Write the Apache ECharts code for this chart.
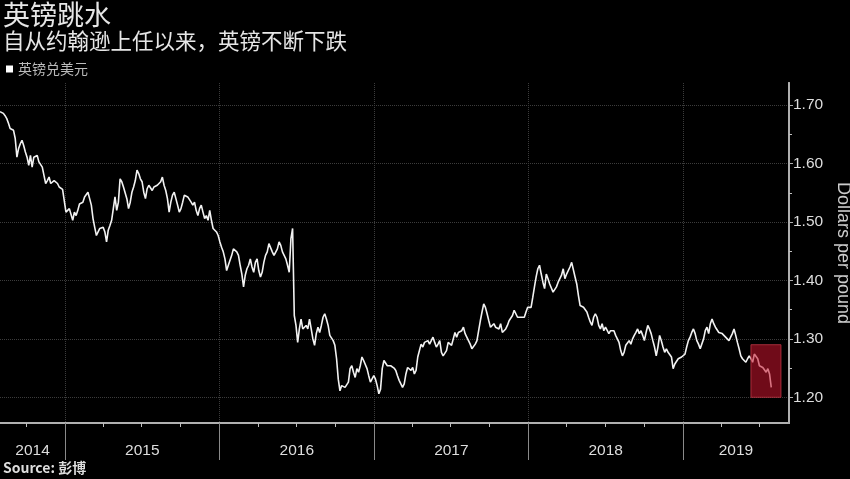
<!DOCTYPE html>
<html><head><meta charset="utf-8">
<script src="https://cdn.jsdelivr.net/npm/echarts@6/dist/echarts.min.js"></script>
<style>html,body{margin:0;padding:0;background:#000;}#c{width:850px;height:479px;}</style>
</head><body><div id="c"></div>
<script>
// ---- text ----
const titleText = '英镑跳水';
const subtitleText = '自从约翰逊上任以来，英镑不断下跌';
const seriesName = '英镑兑美元';
const yAxisName = 'Dollars per pound';
const sourceText = 'Source: 彭博';

// ---- axis range & ticks ----
const axisStart = '2014-07-31';
const axisEnd = '2019-09-09';
const yearStarts = ['2015-01-01','2016-01-01','2017-01-01','2018-01-01','2019-01-01'];
const yearLabels = ['2014','2015','2016','2017','2018','2019'];
const quarterTicks = ['2014-10-01',
  '2015-04-01','2015-07-01','2015-10-01',
  '2016-04-01','2016-07-01','2016-10-01',
  '2017-04-01','2017-07-01','2017-10-01',
  '2018-04-01','2018-07-01','2018-10-01',
  '2019-04-01','2019-07-01'];
const yMin = 1.156, yMax = 1.738;
const yTicks = [1.20, 1.30, 1.40, 1.50, 1.60, 1.70];
const yMinorTicks = [1.25, 1.35, 1.45, 1.55, 1.65];

// ---- highlighted box ----
const highlightFrom = '2019-06-11', highlightTo = '2019-08-21';
const highlightLow = 1.20, highlightHigh = 1.29;

// ---- GBP/USD, sampled every 4 days from sampleStart ----
const sampleStart = '2014-07-31';
const sampleStepDays = 4;
const gbp2014 = [1.689,1.687,1.686,1.682,1.677,1.669,1.660,1.658,1.657,1.643,
  1.611,1.626,1.634,1.640,1.631,1.620,1.611,1.597,1.614,1.594,
  1.611,1.609,1.614,1.603,1.600,1.594,1.580,1.566,1.571,1.577,
  1.566,1.563,1.571,1.574,1.566,1.560,1.557,1.556,1.554];
const gbp2015 = [1.517,1.514,1.523,1.520,1.503,1.517,1.511,1.520,1.531,1.529,
  1.534,1.543,1.546,1.551,1.540,1.529,1.506,1.491,1.477,1.483,
  1.489,1.486,1.491,1.483,1.466,1.486,1.494,1.503,1.523,1.543,
  1.520,1.534,1.574,1.569,1.560,1.560,1.540,1.523,1.534,1.551,
  1.560,1.571,1.589,1.583,1.574,1.569,1.551,1.540,1.557,1.563,
  1.560,1.554,1.560,1.557,1.563,1.563,1.569,1.577,1.563,1.554,
  1.540,1.517,1.534,1.546,1.551,1.540,1.529,1.517,1.523,1.534,
  1.546,1.549,1.543,1.546,1.534,1.529,1.534,1.520,1.511,1.523,
  1.529,1.517,1.506,1.511,1.503,1.520,1.503,1.489,1.491,1.483,1.477];
const gbp2016 = [1.466,1.457,1.449,1.437,1.417,1.426,1.429,1.443,1.454,1.451,
  1.449,1.443,1.426,1.411,1.389,1.409,1.420,1.426,1.437,1.423,
  1.414,1.431,1.437,1.417,1.406,1.414,1.431,1.443,1.449,1.463,
  1.466,1.449,1.443,1.446,1.454,1.466,1.460,1.449,1.451,1.437,
  1.426,1.414,1.471,1.489,1.340,1.323,1.294,1.317,1.334,1.317,
  1.314,1.323,1.317,1.334,1.317,1.300,1.289,1.309,1.320,1.311,
  1.323,1.337,1.343,1.334,1.323,1.306,1.303,1.297,1.289,1.266,
  1.231,1.211,1.220,1.220,1.217,1.214,1.226,1.249,1.254,1.243,
  1.234,1.249,1.243,1.254,1.269,1.263,1.260,1.249,1.237,1.226,1.223,1.237];
const gbp2017 = [1.231,1.220,1.206,1.214,1.249,1.263,1.260,1.254,1.257,1.254,
  1.251,1.250,1.246,1.237,1.229,1.223,1.217,1.223,1.240,1.251,
  1.254,1.246,1.251,1.240,1.246,1.269,1.280,1.291,1.286,1.294,
  1.291,1.297,1.291,1.297,1.303,1.294,1.286,1.291,1.297,1.277,
  1.271,1.269,1.280,1.294,1.297,1.289,1.300,1.311,1.303,1.311,
  1.309,1.314,1.320,1.309,1.303,1.297,1.291,1.283,1.286,1.291,
  1.297,1.314,1.331,1.346,1.360,1.354,1.343,1.331,1.320,1.317,
  1.326,1.320,1.323,1.317,1.326,1.311,1.314,1.317,1.323,1.331,
  1.334,1.340,1.349,1.346,1.337,1.334,1.337,1.340,1.337,1.346,1.354];
const gbp2018 = [1.357,1.354,1.371,1.389,1.406,1.420,1.426,1.411,1.397,1.386,
  1.411,1.403,1.394,1.394,1.380,1.383,1.389,1.397,1.403,1.409,
  1.420,1.403,1.411,1.414,1.423,1.431,1.433,1.406,1.394,1.374,
  1.357,1.354,1.354,1.351,1.346,1.337,1.329,1.323,1.337,1.343,
  1.337,1.323,1.317,1.326,1.314,1.320,1.317,1.309,1.314,1.311,
  1.314,1.306,1.300,1.294,1.280,1.271,1.277,1.289,1.286,1.297,
  1.291,1.300,1.306,1.311,1.317,1.309,1.314,1.306,1.297,1.311,
  1.323,1.317,1.309,1.297,1.286,1.271,1.286,1.306,1.297,1.286,
  1.277,1.283,1.277,1.274,1.269,1.249,1.257,1.260,1.266,1.263,1.269];
const gbp2019 = [1.271,1.274,1.286,1.297,1.303,1.311,1.317,1.309,1.297,1.291,
  1.283,1.280,1.300,1.314,1.320,1.309,1.326,1.334,1.326,1.320,
  1.317,1.311,1.314,1.309,1.306,1.303,1.300,1.297,1.303,1.309,
  1.317,1.306,1.294,1.283,1.271,1.266,1.263,1.260,1.266,1.271,
  1.266,1.260,1.274,1.271,1.266,1.254,1.257,1.251,1.249,1.243,1.249,1.240,1.217];

// ---- build ----
const DAY = 86400000;
function ms(s){ const p = s.split('-').map(Number); return Date.UTC(p[0], p[1]-1, p[2]); }
const gbpValues = [].concat(gbp2014, gbp2015, gbp2016, gbp2017, gbp2018, gbp2019);
const t0 = ms(sampleStart);
const seriesData = gbpValues.map((v, i) => [t0 + i * sampleStepDays * DAY, v]);

const xMin = ms(axisStart), xMax = ms(axisEnd);
const bounds = [xMin].concat(yearStarts.map(ms), [xMax]);
const labelPos = [];
for (let i = 0; i < bounds.length - 1; i++) labelPos.push((bounds[i] + bounds[i+1]) / 2);

const fontLat = 'Liberation Sans, Arial, sans-serif';
const fontCJK = 'Noto Sans CJK SC, sans-serif';
const gridBox = {left: 0, right: 61, top: 83, bottom: 56, containLabel: false, outerBoundsMode: 'none'};
const quarterMs = quarterTicks.map(ms);

const chart = echarts.init(document.getElementById('c'), null, {renderer: 'canvas'});
chart.setOption({
  backgroundColor: '#000',
  animation: false,
  title: [
    {text: titleText, left: 3, top: 1, padding: 0,
     textStyle: {color: '#e6e6e6', fontSize: 27, fontWeight: 'normal', fontFamily: fontCJK}},
    {text: subtitleText, left: 3, top: 30, padding: 0,
     textStyle: {color: '#e6e6e6', fontSize: 21.5, fontWeight: 'normal', fontFamily: fontCJK}},
    {text: sourceText, left: 3, top: 461, padding: 0,
     textStyle: {color: '#dddddd', fontSize: 14, fontWeight: 'bold', fontFamily: fontCJK}}
  ],
  legend: {
    data: [seriesName], left: 6, top: 62, padding: 0,
    icon: 'rect', itemWidth: 7, itemHeight: 7, itemGap: 10,
    textStyle: {color: '#bbbbbb', fontSize: 14, fontFamily: fontCJK}
  },
  grid: [Object.assign({}, gridBox), Object.assign({}, gridBox)],
  xAxis: [
    {type: 'value', gridIndex: 0, min: xMin, max: xMax, position: 'bottom', scale: true,
     axisLine: {show: true, onZero: false, lineStyle: {color: '#b0b0b0', width: 2}},
     axisTick: {show: true, customValues: yearStarts.map(ms), length: 37, inside: false,
                lineStyle: {color: '#8a8a8a', width: 1}},
     axisLabel: {show: true, customValues: labelPos, margin: 20, color: '#dddddd', fontSize: 15.5,
                 fontFamily: fontLat,
                 formatter: function (v) { const k = labelPos.indexOf(v); return k >= 0 ? yearLabels[k] : ''; }},
     splitLine: {show: true, lineStyle: {color: '#3c3c3c', width: 1, type: 'dotted'}}},
    {type: 'value', gridIndex: 1, min: xMin, max: xMax, position: 'bottom', scale: true,
     axisLine: {show: true, onZero: false, lineStyle: {color: '#b0b0b0', width: 2}},
     axisTick: {show: true, customValues: quarterMs, length: 4, inside: false,
                lineStyle: {color: '#c0c0c0', width: 1}},
     axisLabel: {show: true, customValues: quarterMs, color: 'rgba(0,0,0,0)', fontSize: 1,
                 formatter: function () { return ' '; }},
     splitLine: {show: false}}
  ],
  yAxis: [
    {type: 'value', gridIndex: 0, min: yMin, max: yMax, position: 'right', scale: true,
     name: yAxisName, nameLocation: 'middle', nameRotate: -90, nameGap: 40,
     nameTextStyle: {color: '#cccccc', fontSize: 18, fontFamily: fontLat},
     axisLine: {show: true, onZero: false, lineStyle: {color: '#b0b0b0', width: 2}},
     axisTick: {show: true, customValues: yTicks, length: 4, lineStyle: {color: '#b0b0b0'}},
     axisLabel: {show: true, customValues: yTicks, margin: 4, color: '#dddddd', fontSize: 15.5,
                 fontFamily: fontLat, formatter: function (v) { return Number(v).toFixed(2); }},
     splitLine: {show: true, lineStyle: {color: '#3c3c3c', width: 1, type: 'dotted'}}},
    {type: 'value', gridIndex: 1, min: yMin, max: yMax, position: 'right', scale: true,
     axisLine: {show: true, onZero: false, lineStyle: {color: '#b0b0b0', width: 2}},
     axisTick: {show: true, customValues: yMinorTicks, length: 3, lineStyle: {color: '#c0c0c0'}},
     axisLabel: {show: true, customValues: yMinorTicks, color: 'rgba(0,0,0,0)', fontSize: 1,
                 formatter: function () { return ' '; }},
     splitLine: {show: false}}
  ],
  series: [
    {name: seriesName, type: 'line', xAxisIndex: 0, yAxisIndex: 0, data: seriesData,
     showSymbol: false, symbol: 'none', z: 3,
     lineStyle: {color: '#f2f2f2', width: 1.6}, itemStyle: {color: '#ffffff'}},
    {name: 'minorTicksHost', type: 'line', xAxisIndex: 1, yAxisIndex: 1, silent: true,
     data: [[xMin, yMin]], showSymbol: false, symbol: 'none', lineStyle: {opacity: 0}},
    {name: 'highlight', type: 'line', xAxisIndex: 0, yAxisIndex: 0, data: [], z: 10,
     markArea: {silent: true, z: 10,
       itemStyle: {color: 'rgba(200,20,45,0.56)', borderColor: 'rgba(190,55,70,0.8)', borderWidth: 1},
       data: [[{xAxis: ms(highlightFrom), yAxis: highlightLow}, {xAxis: ms(highlightTo), yAxis: highlightHigh}]]}}
  ]
});
</script></body></html>
